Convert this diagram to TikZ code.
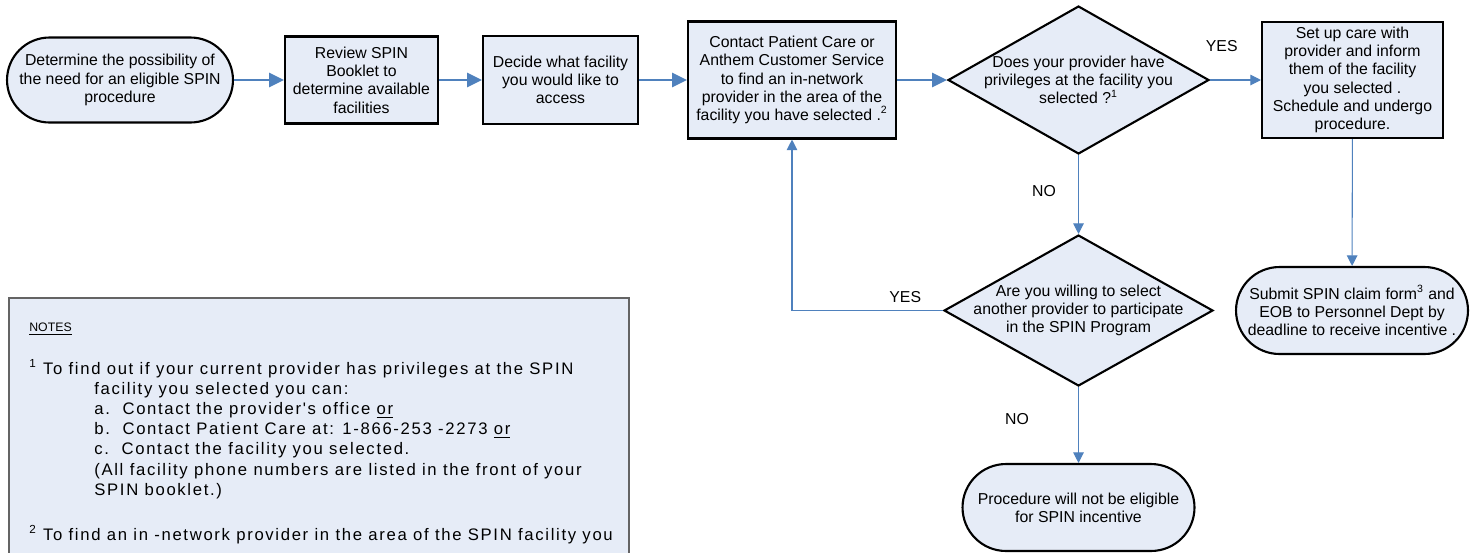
\documentclass[tikz,border=0pt]{standalone}
\usepackage{fontspec}
\setmainfont{Liberation Sans}
\newfontfamily\notefont{Liberation Sans}[LetterSpace=10]
\usetikzlibrary{shapes.geometric,arrows.meta}
\definecolor{boxfill}{HTML}{E6ECF7}
\definecolor{flowblue}{RGB}{79,129,189}
\definecolor{notegray}{RGB}{100,100,100}

\begin{document}
\begin{tikzpicture}[x=0.02cm,y=-0.02cm,
  every node/.style={font=\fontsize{9}{10.4}\selectfont},
  stepbox/.style={draw=black,line width=1.2pt,fill=boxfill,align=center,inner sep=1pt},
  endbox/.style={stepbox,rounded corners=0.87cm,minimum width=4.64cm,minimum height=1.74cm},
  askbox/.style={diamond,draw=black,line width=1.2pt,fill=boxfill,inner sep=0pt},
  flow/.style={draw=flowblue,line width=1.5pt,-{Triangle[length=8.5pt,width=8pt]}},
  link/.style={draw=flowblue,line width=0.6pt,-{Triangle[length=6pt,width=6pt]}},
  answer/.style={inner sep=0pt}]
\useasboundingbox (0,0) rectangle (1473,552);
\clip (0,0) rectangle (1473,552);
\draw[draw=notegray,fill=boxfill,line width=0.6pt] (9,298) rectangle (629,620);
\node[anchor=west,inner sep=0pt,font=\fontsize{7}{8}\selectfont] (notehead) at (29,329) {\underline{NOTES}};
\node[anchor=base west,inner sep=0pt,font=\notefont\fontsize{9.5}{11.5}\selectfont] (notebody) at (29,374) {\parbox[t]{13cm}{%
\textsuperscript{1} To find out if your current provider has privileges at the SPIN\\
\hspace*{37pt}facility you selected you can:\\
\hspace*{37pt}a.\ \ Contact the provider's office \underline{or}\\
\hspace*{37pt}b.\ \ Contact Patient Care at: 1-866-253 -2273 \underline{or}\\
\hspace*{37pt}c.\ \ Contact the facility you selected.\\
\hspace*{37pt}(All facility phone numbers are listed in the front of your\\
\hspace*{37pt}SPIN booklet.)\\[14pt]
\textsuperscript{2} To find an in -network provider in the area of the SPIN facility you}};

\node[endbox,minimum width=4.52cm,minimum height=1.7cm,rounded corners=0.85cm] (begin) at (120,80) {Determine the possibility of\\the need for an eligible SPIN\\procedure};
\node[stepbox,minimum width=3.06cm,minimum height=1.74cm] (review) at (361.5,80) {Review SPIN\\Booklet to\\determine available\\facilities};
\node[stepbox,minimum width=3.1cm,minimum height=1.76cm] (decide) at (560.5,80) {Decide what facility\\you would like to\\access};
\node[stepbox,minimum width=4.16cm,minimum height=2.34cm] (contact) at (792,80) {Contact Patient Care or\\Anthem Customer Service\\to find an in-network\\provider in the area of the\\facility you have selected .\textsuperscript{2}};
\node[askbox,minimum width=5.22cm,minimum height=2.96cm,label={[align=center]center:Does your provider have\\privileges at the facility you\\selected ?\textsuperscript{1}}] (privq) at (1078.5,80) {};
\node[stepbox,minimum width=3.62cm,minimum height=2.32cm] (setup) at (1352.5,80) {Set up care with\\provider and inform\\them of the facility\\you selected .\\Schedule and undergo\\procedure.};
\node[askbox,minimum width=5.38cm,minimum height=3.02cm,label={[align=center]center:Are you willing to select\\another provider to participate\\in the SPIN Program}] (willq) at (1078.5,310.5) {};
\node[endbox] (claim) at (1352,310.5) {Submit SPIN claim form\textsuperscript{3} and\\EOB to Personnel Dept by\\deadline to receive incentive .};
\node[endbox] (noteligible) at (1078.5,507.5) {Procedure will not be eligible\\for SPIN incentive};

\draw[flow] (begin) -- (review);
\draw[flow] (review) -- (decide);
\draw[flow] (decide) -- (contact);
\draw[flow] (contact) -- (privq);
\draw[link] (privq) -- node[answer,pos=0.23,yshift=0.68cm] {YES} (setup);
\draw[link] (privq) -- node[answer,pos=0.46,xshift=-0.69cm] {NO} (willq);
\draw[link] (willq) -| node[answer,pos=0.125,yshift=0.27cm] {YES} (contact);
\draw[link] (willq) -- node[answer,pos=0.42,xshift=-1.23cm] {NO} (noteligible);
\draw[link] (setup) -- (claim);
\end{tikzpicture}
\end{document}
